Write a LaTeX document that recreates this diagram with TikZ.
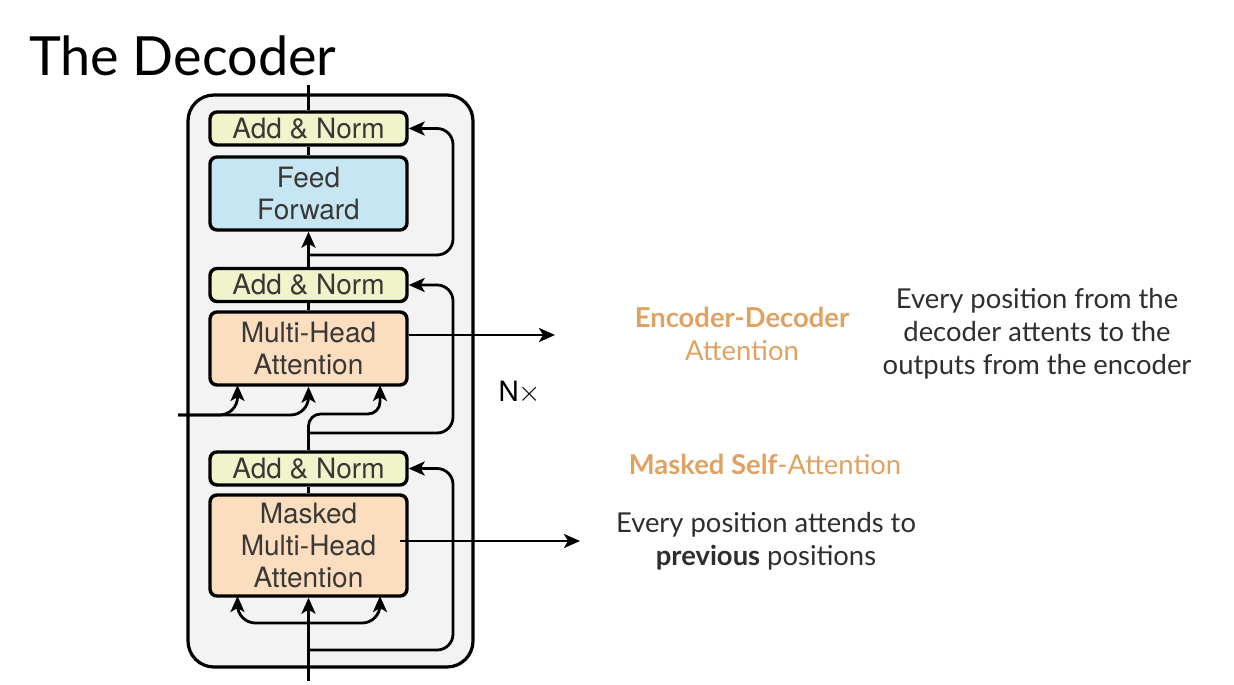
\documentclass[tikz,border=0pt]{standalone}
\usepackage{fontspec}
\usepackage{xcolor}
\usepackage{tikz}
\usetikzlibrary{arrows.meta,positioning,calc}
\setmainfont{Lato}
\newfontfamily\heros{TeX Gyre Heros}

\definecolor{normfill}{HTML}{F1F4CB}
\definecolor{fffill}{HTML}{C6E6F4}
\definecolor{attfill}{HTML}{FBDEC0}
\definecolor{layerfill}{HTML}{F3F3F4}
\definecolor{accent}{HTML}{DFA262}
\definecolor{boxtext}{HTML}{3A3835}
\definecolor{note}{HTML}{2E2E2E}

\begin{document}
\begin{tikzpicture}[x=0.5pt,y=-0.5pt,>={Stealth[length=8pt,width=7pt,inset=2pt]},
  block/.style={draw,line width=1.7pt,rounded corners=3.5pt,minimum width=98.5pt,
    font=\heros\fontsize{14}{16}\selectfont,text=boxtext,align=center,inner sep=0pt},
  norm/.style={block,fill=normfill,minimum height=16.5pt},
  ffn/.style={block,fill=fffill,minimum height=36.5pt},
  att/.style={block,fill=attfill,minimum height=36.5pt},
  wire/.style={line width=1.4pt},
  res/.style={wire,->,rounded corners=8pt},
  notetext/.style={font=\fontsize{13.7}{16.5}\selectfont,text=note,align=center}]
  \useasboundingbox (0,0) rectangle (1234,684);

  % title
  \node[anchor=west,font=\fontsize{27}{30}\selectfont] (title) at (22,56) {The Decoder};

  % decoder layer
  \draw[line width=1.6pt,fill=layerfill,rounded corners=13pt] (188,95) rectangle (473,667);
  \node[norm] (addT) at (308.5,128.5) {Add \& Norm};
  \node[ffn] (ff) at (308.5,193.5) {Feed\\Forward};
  \node[norm] (addM) at (308.5,285) {Add \& Norm};
  \node[att] (mha) at (308.5,348.5) {Multi-Head\\Attention};
  \node[norm] (addB) at (308.5,468.5) {Add \& Norm};
  \node[block,fill=attfill,minimum height=50.5pt] (mmha) at (308.5,545.5) {Masked\\Multi-Head\\Attention};

  \coordinate (in) at (308.5,681);
  \coordinate (out) at (308.5,85);
  \coordinate (split1) at (308.5,650);
  \coordinate (fork1) at (308.5,623);
  \coordinate (split2) at (308.5,433);
  \coordinate (split3) at (308.5,255);
  \coordinate (enc) at (178,415);

  % masked self-attention
  \draw[wire,->] (in) -- (mmha.south);
  \draw[wire,->,rounded corners=9pt] (fork1) -| (237.5,596);
  \draw[wire,->,rounded corners=9pt] (fork1) -| (380,596);
  \draw[res] (split1) -- (453,650) |- (addB.east);
  \draw[wire] (mmha.north) -- (addB.south);

  % encoder-decoder attention
  \draw[wire] (addB.north) -- (split2);
  \draw[res] (split2) -- (453,433) |- (addM.east);
  \draw[wire,->,rounded corners=6pt] (split2) -- (308.5,414) -- (380,414) -- (380,385);
  \draw[wire,->,rounded corners=9pt] (enc) -| (237.5,385);
  \draw[wire,->,rounded corners=9pt] (enc) -| (mha.south);
  \draw[wire] (mha.north) -- (addM.south);

  % feed forward
  \draw[wire,->] (addM.north) -- (ff.south);
  \draw[res] (split3) -- (453,255) |- (addT.east);
  \draw[wire] (ff.north) -- (addT.south);
  \draw[wire] (addT.north) -- (out);

  \node[font=\heros\fontsize{14}{15}\selectfont] (nx) at (520,392) {N$\times$};

  % side arrows
  \coordinate (edout) at (555,335);
  \draw[wire,->] (mha.east |- edout) -- (edout);
  \coordinate (mout) at (400,541);
  \coordinate (msout) at (580,541);
  \draw[wire,->] (mout) -- (msout);

  % notes
  \node[notetext,text=accent] (edname) at (742,334) {\textbf{Encoder-Decoder}\\Attention};
  \node[notetext] (eddesc) at (1037,334) {Every position from the\\decoder attents to the\\outputs from the encoder};
  \node[notetext,text=accent] (msname) at (765,464) {\textbf{Masked Self}-Attention};
  \node[notetext] (msdesc) at (766,541) {Every position attends to\\\textbf{previous} positions};
\end{tikzpicture}
\end{document}
